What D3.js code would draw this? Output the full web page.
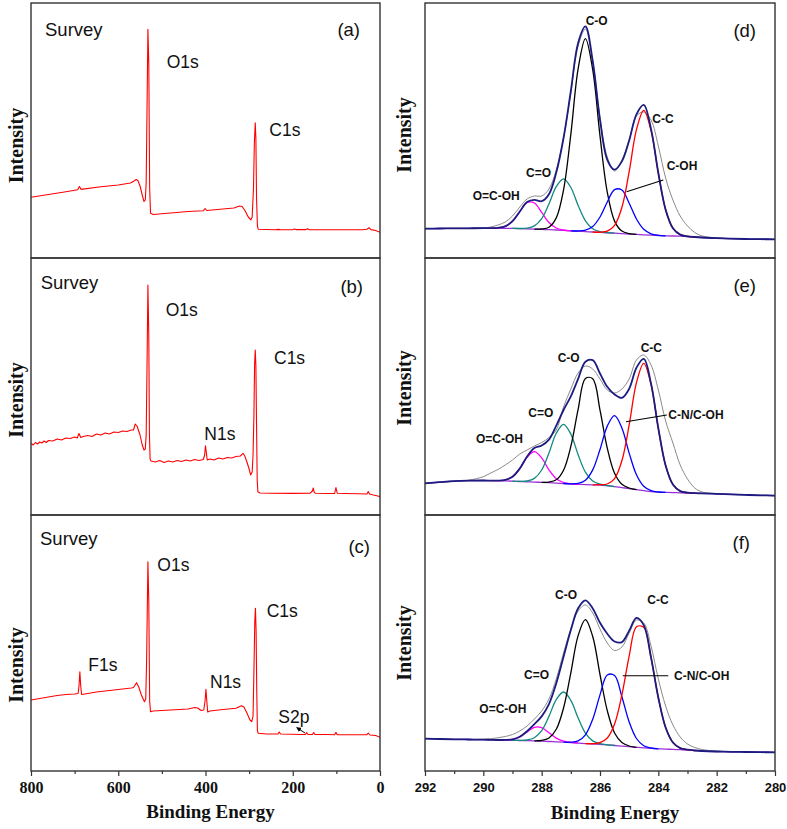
<!DOCTYPE html>
<html><head><meta charset="utf-8">
<script src="https://cdn.jsdelivr.net/npm/d3@7"></script>
<style>body{margin:0;background:#fff}</style>
</head><body>
<svg id="chart" width="787" height="829" xmlns="http://www.w3.org/2000/svg"></svg>
<script>
// ---------------- DATA ----------------
// Survey spectra: [binding energy (eV), intensity (a.u.)]
const surveyA = [[800,60.7],[760,63.5],[720,66.3],[693,68.2],[689,71.5],[685,68.6],[640,71.3],[600,73.0],[572,75],[564,77],[559,78.5],[555,77.5],[550,72],[545,63],[541,56.5],[538,58],[536,75],[534,150],[532,228.7],[530,195],[528,70],[526,44.7],[520,43.5],[480,45],[440,46.5],[405,47.2],[401,49.5],[397,47.5],[360,49],[335,50],[322,52],[316,51.5],[309,47],[302,41],[296,38.2],[293,41],[290,70],[288,115],[286,135.3],[284.5,120],[283,60],[281,32],[279,28.7],[240,28.3],[232,28.6],[228,28.3],[200,28.4],[196,29],[192,28.4],[170,28.4],[166,29.3],[162,28.3],[120,28.2],[100,28.3],[40,28.3],[30,28.8],[25,30.3],[21,28.4],[10,27.5],[0,25.7]];
const surveyB = [[800,71.7],[795,70],[790,72.5],[785,71],[780,73],[775,72],[770,74],[765,72.5],[760,74.5],[750,74],[740,76],[730,75],[720,77],[710,76.5],[700,78],[694,77],[690,81.5],[686,77.5],[680,78.5],[670,79.5],[660,78.5],[650,81],[640,80],[630,82],[620,81],[610,83],[600,82.5],[590,84],[580,83.5],[570,85],[565,85],[561,91],[557,89],[550,80],[545,70],[541,65],[538,66],[536,80],[534,150],[532,230],[530,180],[528.5,80],[527,56],[525,54],[515,53],[505,54.5],[495,52.5],[485,54],[475,53],[465,54.5],[455,53.5],[445,55],[435,54],[425,55.5],[415,54.5],[405,55.5],[402,60],[400,69.3],[398,62],[396,55],[390,56],[380,55],[370,57],[360,56],[350,57.5],[340,57],[330,58.5],[320,59],[314,61.7],[310,59],[305,53],[300,46],[296.5,40],[293,43],[291,60],[289,100],[287.5,150],[286,165],[284.5,150],[283,90],[281.5,35],[280,23.3],[275,22],[250,21.7],[200,21.6],[160,21.8],[155,24],[153,27],[151,23],[148,21.7],[120,21.5],[104,21.5],[101,27.5],[98,21.8],[80,21.5],[50,21.2],[30,21],[27,23.5],[24,21],[15,20],[5,19],[0,18.3]];
const surveyC = [[800,71],[780,72.5],[760,74],[740,75.5],[720,76.5],[700,77],[692,77.5],[690,85],[688,99.3],[686,85],[684,76.5],[670,77.5],[650,79],[630,80],[610,81],[590,82],[570,83],[565,83.5],[558,88.3],[553,84],[547,76],[540,69.3],[537,72],[535,110],[532,209.3],[530,170],[528,70],[526,59.3],[520,60],[480,61],[440,62],[425,63.5],[418,63],[410,60.5],[404,61],[401,70],[399,81.7],[397,70],[395,59],[390,60],[360,61.5],[330,62.7],[318,65.3],[312,64],[305,58],[298,51],[294,49.3],[291,55],[289,100],[287,150],[285.5,162.7],[284,140],[282.5,80],[281,40],[279,37.7],[260,37],[234,37],[231,39],[228,37],[180,36.5],[171,36.5],[168,38.5],[165,36.5],[155,36.5],[152,38.5],[149,36.5],[120,36.5],[104,36.3],[101,38.7],[98,36.3],[60,36.2],[30,36.3],[27,38],[23,36],[10,35.5],[0,33.7]];

// C1s high-resolution spectra: shared energy grid (eV)
const energyGrid = [292,291.5,291,290.5,290,289.75,289.5,289.25,289,288.75,288.5,288.25,288,287.75,287.5,287.25,287,286.75,286.5,286.25,286,285.75,285.5,285.25,285,284.75,284.5,284.25,284,283.75,283.5,283.25,283,282.75,282.5,282,281.5,281,280.5,280];

// (d) background, raw data, fitted components (height above background)
const bgD = [29.3,29.5,29.6,29.7,29.8,29.8,29.8,29.7,29.6,29.4, 29.2,28.9,28.6,28.3,28.0,27.6,27.2,26.8,26.4,26.0, 25.6,25.2,24.8,24.4,24.0,23.6,23.2,22.8,22.5,22.2, 22.0,21.8,21.5,21.0,20.5,19.8,19.3,19.0,18.8,18.7];
const rawD = [29.3,29.5,29.6,29.7,30.0,31,33,36,42,51, 59,62,62,69,88,120,165,212,229,196, 140,101,87,98,118,142,146,138,112,80, 58,42,32,25.5,22,20,19.3,19.0,18.8,18.7];
const oCOH_D = [0,0,0,0,0,0,0.4,2.0,7.2,17.0, 26.1,26.1,17.0,7.2,2.0,0.4,0,0,0,0, 0,0,0,0,0,0,0,0,0,0, 0,0,0,0,0,0,0,0,0,0];
const cEqO_D = [0,0,0,0,0,0,0,0,0,0.1, 0.7,3.2,10.8,25.8,43.3,51.5,43.3,25.8,10.8,3.2, 0.7,0.1,0,0,0,0,0,0,0,0, 0,0,0,0,0,0,0,0,0,0];
const cO_D = [0,0,0,0,0,0,0,0,0,0, 0,0,0.4,2.5,12.1,40.5,96.5,162.3,193,162.3, 96.5,40.5,12.1,2.5,0.4,0,0,0,0,0, 0,0,0,0,0,0,0,0,0,0];
const cOH_D = [0,0,0,0,0,0,0,0,0,0, 0,0,0,0,0,0,0,0.2,1.4,5.5, 15.4,30.8,43.6,43.6,30.8,15.4,5.5,1.4,0.2,0, 0,0,0,0,0,0,0,0,0,0];
const cC_D = [0,0,0,0,0,0,0,0,0,0, 0,0,0,0,0,0,0,0,0,0, 0.2,1.6,7.8,26.1,62.3,104.7,124.5,104.7,62.3,26.1, 7.8,1.6,0.2,0,0,0,0,0,0,0];

// (e)
const bgE = [31.7,32.8,33.8,34.3,34.5,34.4,34.3,34.1,33.8,33.5, 33.2,32.9,32.6,32.3,31.9,31.5,31.1,30.7,30.4,30.2, 30.0,29.3,28.4,27.4,26.4,25.3,24.3,23.4,22.9,22.6, 22.4,22.2,22.0,21.8,21.6,21.2,20.6,20.1,19.7,19.3];
const rawE = [31.7,32.6,33.6,34.8,38.3,42,45.5,50,55,61, 65,69,72.5,77.5,85,108,126,142,149,146, 136,125,122,126,136,155,160,150,125,94, 72,50,36,27,23,21.3,20.6,20.1,19.7,19.3];
const oCOH_E = [0,0,0,0,0,0,0.1,1.0,4.4,12.9, 24.5,30.4,24.5,12.9,4.4,1.0,0.1,0,0,0, 0,0,0,0,0,0,0,0,0,0, 0,0,0,0,0,0,0,0,0,0];
const cEqO_E = [0,0,0,0,0,0,0,0,0,0.1, 0.8,3.7,12.4,29.6,49.8,59.2,49.8,29.6,12.4,3.7, 0.8,0.1,0,0,0,0,0,0,0,0, 0,0,0,0,0,0,0,0,0,0];
const cO_E = [0,0,0,0,0,0,0,0,0,0, 0,0,0,0.6,3.3,13.3,37.5,74.9,106.1,106.1, 74.9,37.5,13.3,3.3,0.6,0,0,0,0,0, 0,0,0,0,0,0,0,0,0,0];
const cN_E = [0,0,0,0,0,0,0,0,0,0, 0,0,0,0,0,0,0.1,0.9,4.4,14.9, 35.5,59.6,70.9,59.6,35.5,14.9,4.4,0.9,0.1,0, 0,0,0,0,0,0,0,0,0,0];
const cC_E = [0,0,0,0,0,0,0,0,0,0, 0,0,0,0,0,0,0,0,0,0, 0.3,1.7,8.0,26.8,63.7,107.1,127.4,107.1,63.7,26.8, 8.0,1.7,0.3,0,0,0,0,0,0,0];

// (f)
const bgF = [32.3,32.0,31.7,31.5,31.3,31.2,31.0,30.9,30.7,30.5, 30.3,30.1,29.8,29.5,29.2,28.8,28.4,27.9,27.4,27.0, 26.7,26.1,25.5,24.9,24.3,23.7,23.1,22.6,22.2,21.9, 21.6,21.3,21.0,20.5,20.0,19.5,19.2,19.0,18.8,18.7];
const rawF = [32.3,32.0,31.7,31.6,31.8,32.3,33.2,34.5,36.5,40, 45,52,60,72,92,118,142,160,166,158, 142,128,120.5,124,138,151,148,125,92,65, 46,34,27,23.5,21.5,19.8,19.2,19.0,18.8,18.7];
const oCOH_F = [0,0,0,0,0,0,0,0.2,1.0,3.7, 8.8,13.6,13.6,8.8,3.7,1.0,0.2,0,0,0, 0,0,0,0,0,0,0,0,0,0, 0,0,0,0,0,0,0,0,0,0];
const cEqO_F = [0,0,0,0,0,0,0,0,0,0.1, 0.7,3.1,10.5,25.1,42.2,50.2,42.2,25.1,10.5,3.1, 0.7,0.1,0,0,0,0,0,0,0,0, 0,0,0,0,0,0,0,0,0,0];
const cO_F = [0,0,0,0,0,0,0,0,0,0, 0,0,0.7,3.5,12.5,34.2,69.8,107.5,124,107.5, 69.8,34.2,12.5,3.5,0.7,0,0,0,0,0, 0,0,0,0,0,0,0,0,0,0];
const cN_F = [0,0,0,0,0,0,0,0,0,0, 0,0,0,0,0,0,0.4,2.2,8.8,24.7, 49.4,69.9,69.9,49.4,24.7,8.8,2.2,0.4,0,0, 0,0,0,0,0,0,0,0,0,0];
const cC_F = [0,0,0,0,0,0,0,0,0,0, 0,0,0,0,0,0,0,0,0,0.3, 1.6,6.9,21.6,51.1,90.6,120.6,120.6,90.6,51.1,21.6, 6.9,1.6,0.3,0,0,0,0,0,0,0];

// Tick values
const surveyTicks = [800, 600, 400, 200, 0];
const surveyMinorTicks = [700, 500, 300, 100];
const hrTicks = [292, 290, 288, 286, 284, 282, 280];
const hrMinorTicks = [291, 289, 287, 285, 283, 281];

// ---------------- LAYOUT ----------------
const svg = d3.select('#chart');
const SANS = "'Liberation Sans', Arial, sans-serif";
const SERIF = "'Liberation Serif', 'Times New Roman', serif";
const rows = [[3, 258], [258, 515], [515, 771]];
const leftX = d3.scaleLinear().domain([800, 0]).range([31, 380]);
const rightX = d3.scaleLinear().domain([292, 280]).range([425, 775]);
const yScale = r => d3.scaleLinear().domain([0, r[1] - r[0]]).range([r[1], r[0]]);
const frameColor = '#333';

const defs = svg.append('defs');
rows.forEach((r, i) => {
  defs.append('clipPath').attr('id', 'clipL' + i).append('rect')
    .attr('x', 31).attr('y', r[0]).attr('width', 349).attr('height', r[1] - r[0]);
  defs.append('clipPath').attr('id', 'clipR' + i).append('rect')
    .attr('x', 425).attr('y', r[0]).attr('width', 350).attr('height', r[1] - r[0]);
});
defs.append('marker').attr('id', 'arrowHead').attr('viewBox', '0 0 10 10')
  .attr('refX', 9).attr('refY', 5).attr('markerWidth', 5).attr('markerHeight', 5)
  .attr('orient', 'auto').append('path').attr('d', 'M0,0 L10,5 L0,10 z').attr('fill', '#000');

// ---- survey panels ----
const surveys = [surveyA, surveyB, surveyC];
surveys.forEach((data, i) => {
  const y = yScale(rows[i]);
  const line = d3.line().x(d => leftX(d[0])).y(d => y(d[1]));
  svg.append('g').attr('clip-path', `url(#clipL${i})`)
    .append('path').datum(data).attr('d', line)
    .attr('fill', 'none').attr('stroke', '#ff0000').attr('stroke-width', 1.1)
    .attr('stroke-linejoin', 'round');
});

// ---- high resolution panels ----
const compColors = ['#ff00ff', '#12897f', '#000000', '#0000ff', '#ff0000'];
const hrPanels = [
  { bg: bgD, raw: rawD, comps: [oCOH_D, cEqO_D, cO_D, cOH_D, cC_D] },
  { bg: bgE, raw: rawE, comps: [oCOH_E, cEqO_E, cO_E, cN_E, cC_E] },
  { bg: bgF, raw: rawF, comps: [oCOH_F, cEqO_F, cO_F, cN_F, cC_F] }
];
hrPanels.forEach((p, i) => {
  const y = yScale(rows[i]);
  const line = d3.line().curve(d3.curveCatmullRom.alpha(0.5))
    .x(d => rightX(d[0])).y(d => y(d[1]));
  const g = svg.append('g').attr('clip-path', `url(#clipR${i})`);
  g.append('path').datum(energyGrid.map((e, k) => [e, p.bg[k]])).attr('d', line)
    .attr('fill', 'none').attr('stroke', '#9b30d8').attr('stroke-width', 1.3);
  g.append('path').datum(energyGrid.map((e, k) => [e, p.raw[k]])).attr('d', line)
    .attr('fill', 'none').attr('stroke', '#8a8a8a').attr('stroke-width', 1);
  p.comps.forEach((h, c) => {
    const pts = [];
    energyGrid.forEach((e, k) => {
      if (h[k] > 0 || h[k - 1] > 0 || h[k + 1] > 0) pts.push([e, p.bg[k] + h[k]]);
    });
    g.append('path').datum(pts).attr('d', line)
      .attr('fill', 'none').attr('stroke', compColors[c]).attr('stroke-width', 1.3);
  });
  const env = energyGrid.map((e, k) => [e, p.bg[k] + d3.sum(p.comps, h => h[k])]);
  g.append('path').datum(env).attr('d', line)
    .attr('fill', 'none').attr('stroke', '#1c1c80').attr('stroke-width', 1.8);
});

// ---- frames ----
rows.forEach(r => {
  svg.append('rect').attr('x', 31).attr('y', r[0]).attr('width', 349).attr('height', r[1] - r[0])
    .attr('fill', 'none').attr('stroke', frameColor).attr('stroke-width', 1.4);
  svg.append('rect').attr('x', 425).attr('y', r[0]).attr('width', 350).attr('height', r[1] - r[0])
    .attr('fill', 'none').attr('stroke', frameColor).attr('stroke-width', 1.4);
});

// ---- axes ----
function drawAxis(scale, major, minor, font, size, pad) {
  const gA = svg.append('g').attr('transform', 'translate(0,771)')
    .call(d3.axisBottom(scale).tickValues(major).tickSize(5).tickSizeOuter(0).tickPadding(pad).tickFormat(d3.format('d')));
  gA.select('.domain').remove();
  gA.selectAll('line').attr('stroke', frameColor).attr('stroke-width', 1.2);
  gA.selectAll('text').attr('font-family', font).attr('font-size', size)
    .attr('font-weight', 'bold').attr('fill', '#111');
  const gm = svg.append('g').attr('transform', 'translate(0,771)')
    .call(d3.axisBottom(scale).tickValues(minor).tickSize(3).tickSizeOuter(0).tickFormat(''));
  gm.select('.domain').remove();
  gm.selectAll('line').attr('stroke', frameColor).attr('stroke-width', 1.2);
}
drawAxis(leftX, surveyTicks, surveyMinorTicks, SERIF, 16, 5.5);
drawAxis(rightX, hrTicks, hrMinorTicks, SANS, 13, 6.5);

// axis titles
[[210.5, 818], [615, 819]].forEach(p => {
  svg.append('text').attr('x', p[0]).attr('y', p[1]).attr('text-anchor', 'middle')
    .attr('font-family', SERIF).attr('font-weight', 'bold').attr('font-size', 19)
    .attr('fill', '#111').text('Binding Energy');
});
[[22.5, 145.5], [22.5, 400], [22.5, 665], [410.5, 135], [410.5, 388], [410.5, 643]].forEach(p => {
  svg.append('text').attr('transform', `translate(${p[0]},${p[1]}) rotate(-90)`)
    .attr('text-anchor', 'middle').attr('font-family', SERIF).attr('font-weight', 'bold')
    .attr('font-size', 20).attr('fill', '#111').text('Intensity');
});

// ---- annotations ----
function txt(t, x, y, opts) {
  svg.append('text').attr('x', x).attr('y', y)
    .attr('text-anchor', opts.anchor || 'start')
    .attr('font-family', SANS).attr('font-size', opts.size)
    .attr('font-weight', opts.bold ? 'bold' : 'normal').attr('fill', '#111').text(t);
}
const surveyNotes = [
  ['Survey', 45, 36], ['O1s', 166.7, 67.7], ['C1s', 269.3, 136],
  ['Survey', 40.7, 289.3], ['O1s', 165.7, 316], ['C1s', 274, 364], ['N1s', 204.3, 440],
  ['Survey', 40, 545], ['O1s', 157.3, 570.7], ['C1s', 266.7, 617.3], ['F1s', 88.3, 670.7], ['N1s', 210, 687.7], ['S2p', 278.3, 723.3]
];
surveyNotes.forEach(n => txt(n[0], n[1], n[2], { size: n[0] === 'Survey' ? 18.5 : 17.5 }));
[['(a)', 360, 36], ['(b)', 363, 293.3], ['(c)', 370, 552.7], ['(d)', 756, 36.7], ['(e)', 756, 291.7], ['(f)', 750, 549.3]]
  .forEach(n => txt(n[0], n[1], n[2], { size: 18.5, anchor: 'end' }));
const hrNotes = [
  ['C-O', 585.7, 25], ['C-C', 652.3, 122.7], ['C-OH', 666.7, 170], ['C=O', 526, 176.7], ['O=C-OH', 472.7, 200],
  ['C-C', 640.7, 351.7], ['C-O', 557.7, 362.3], ['C=O', 528.3, 416.7], ['C-N/C-OH', 668.3, 419.3], ['O=C-OH', 476, 442.7],
  ['C-O', 555, 599], ['C-C', 647.3, 604], ['C=O', 524, 679], ['C-N/C-OH', 674, 680], ['O=C-OH', 479.3, 713.3]
];
hrNotes.forEach(n => txt(n[0], n[1], n[2], { size: 12, bold: true }));

// leader lines (data coordinates)
const leaders = [[0, 285.09, 66.3, 283.83, 78], [1, 285.11, 93.3, 283.71, 100], [2, 285.22, 95.3, 283.66, 95.3]];
leaders.forEach(l => {
  const y = yScale(rows[l[0]]);
  svg.append('line').attr('x1', rightX(l[1])).attr('y1', y(l[2]))
    .attr('x2', rightX(l[3])).attr('y2', y(l[4])).attr('stroke', '#000').attr('stroke-width', 1.1);
});
// S2p arrow
{
  const y = yScale(rows[2]);
  svg.append('line').attr('x1', leftX(172)).attr('y1', y(38)).attr('x2', leftX(191)).attr('y2', y(43.5))
    .attr('stroke', '#000').attr('stroke-width', 1).attr('marker-end', 'url(#arrowHead)');
}
</script>
</body></html>
